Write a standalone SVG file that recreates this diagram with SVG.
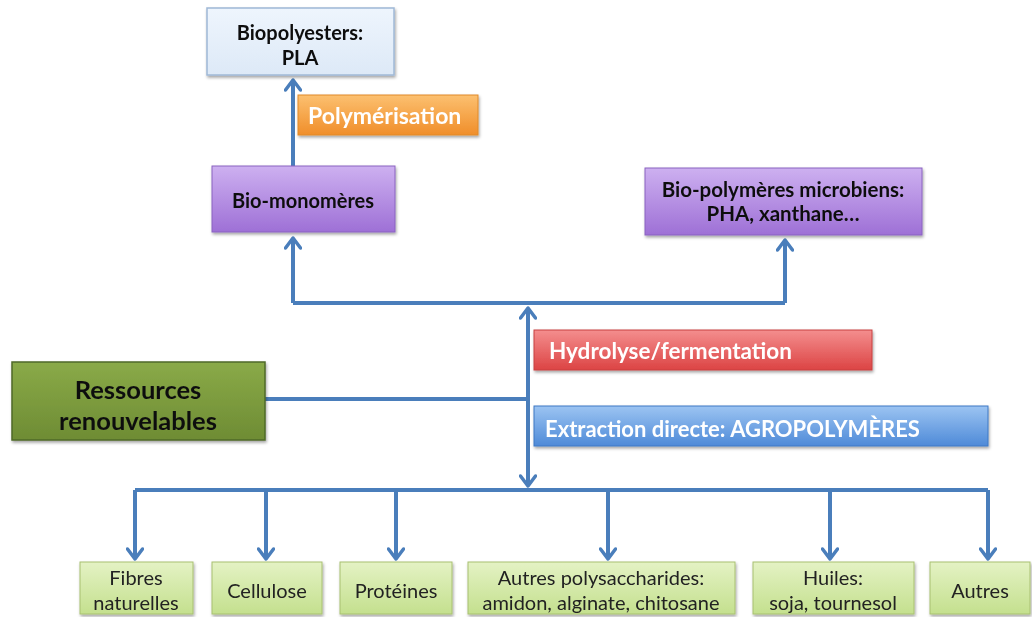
<svg xmlns="http://www.w3.org/2000/svg" width="1032" height="617" viewBox="0 0 1032 617">
<defs>
<linearGradient id="gPurple" x1="0" y1="0" x2="0" y2="1"><stop offset="0" stop-color="#cdb0f0"/><stop offset="1" stop-color="#9e70d6"/></linearGradient>
<linearGradient id="gOrange" x1="0" y1="0" x2="0" y2="1"><stop offset="0" stop-color="#fcc070"/><stop offset="1" stop-color="#f08e2a"/></linearGradient>
<linearGradient id="gRed" x1="0" y1="0" x2="0" y2="1"><stop offset="0" stop-color="#f48e8e"/><stop offset="1" stop-color="#dc4444"/></linearGradient>
<linearGradient id="gBlue" x1="0" y1="0" x2="0" y2="1"><stop offset="0" stop-color="#9cc4f2"/><stop offset="1" stop-color="#4e8ad8"/></linearGradient>
<linearGradient id="gGreen" x1="0" y1="0" x2="0" y2="1"><stop offset="0" stop-color="#8aaa48"/><stop offset="1" stop-color="#6e8c34"/></linearGradient>
<linearGradient id="gLime" x1="0" y1="0" x2="0" y2="1"><stop offset="0" stop-color="#e4f2c4"/><stop offset="1" stop-color="#c4e08e"/></linearGradient>
<linearGradient id="gPale" x1="0" y1="0" x2="0" y2="1"><stop offset="0" stop-color="#eef5fd"/><stop offset="1" stop-color="#dde9f7"/></linearGradient>
<filter id="sh" x="-10%" y="-20%" width="120%" height="150%"><feDropShadow dx="1" dy="2" stdDeviation="1.5" flood-color="#000" flood-opacity="0.35"/></filter>
<marker id="arr" viewBox="0 0 14 18" refX="12" refY="9" markerWidth="14" markerHeight="18" markerUnits="userSpaceOnUse" orient="auto">
<path d="M2,1.5 L12,9 L2,16.5" fill="none" stroke="#4a7ebb" stroke-width="3.5" stroke-linecap="round" stroke-linejoin="round"/>
</marker>
<style>
.t{font-family:Lato,"Open Sans","Liberation Sans",sans-serif;text-anchor:middle}
.b{font-weight:bold;fill:#111}
.w{font-weight:bold;fill:#fff;text-anchor:start}
.r{fill:#222;font-size:20px}
.c{fill:none;stroke:#4a7ebb;stroke-width:4}
.box{filter:url(#sh)}
</style>
</defs>

<g id="connectors">
<path class="c" d="M293,166 V80" marker-end="url(#arr)"/>
<path class="c" d="M293,303 H785"/>
<path class="c" d="M293,303 V238" marker-end="url(#arr)"/>
<path class="c" d="M785,303 V240" marker-end="url(#arr)"/>
<path class="c" d="M528,400 V308" marker-end="url(#arr)"/>
<path class="c" d="M528,400 V486" marker-end="url(#arr)"/>
<path class="c" d="M265,399 H528"/>
<path class="c" d="M135,490 H988"/>
<path class="c" d="M135,490 V559" marker-end="url(#arr)"/>
<path class="c" d="M266,490 V559" marker-end="url(#arr)"/>
<path class="c" d="M396,490 V559" marker-end="url(#arr)"/>
<path class="c" d="M608,490 V559" marker-end="url(#arr)"/>
<path class="c" d="M830,490 V559" marker-end="url(#arr)"/>
<path class="c" d="M988,490 V559" marker-end="url(#arr)"/>
</g>

<g id="biopolyesters" class="box">
<rect x="207" y="8" width="187" height="67" fill="url(#gPale)" stroke="#9fb8d6" stroke-width="1.5"/>
<text class="t b" x="300" y="40" font-size="20">Biopolyesters:</text>
<text class="t b" x="300" y="65" font-size="20">PLA</text>
</g>

<g id="polymerisation" class="box">
<rect x="298" y="95" width="180" height="40" fill="url(#gOrange)" stroke="#e08a2a" stroke-width="1"/>
<text class="t w" x="308" y="124" font-size="23">Polymérisation</text>
</g>

<g id="biomonomeres" class="box">
<rect x="212" y="166" width="183" height="66" fill="url(#gPurple)" stroke="#8a62c0" stroke-width="1"/>
<text class="t b" x="303" y="208" font-size="20">Bio-monomères</text>
</g>

<g id="biopolymeres" class="box">
<rect x="645" y="168" width="277" height="67" fill="url(#gPurple)" stroke="#8a62c0" stroke-width="1"/>
<text class="t b" x="783" y="197" font-size="20.5">Bio-polymères microbiens:</text>
<text class="t b" x="783" y="221" font-size="20.5">PHA, xanthane…</text>
</g>

<g id="ressources" class="box">
<rect x="12" y="362" width="253" height="78" fill="url(#gGreen)" stroke="#4f6a28" stroke-width="1.5"/>
<text class="t b" x="138" y="399" font-size="25.5">Ressources</text>
<text class="t b" x="138" y="430" font-size="25.5">renouvelables</text>
</g>

<g id="hydrolyse" class="box">
<rect x="534" y="330" width="338" height="40" fill="url(#gRed)" stroke="#c84040" stroke-width="1"/>
<text class="t w" x="549" y="359" font-size="22.5">Hydrolyse/fermentation</text>
</g>

<g id="extraction" class="box">
<rect x="534" y="406" width="454" height="40" fill="url(#gBlue)" stroke="#3e78c4" stroke-width="1"/>
<text class="t w" x="545" y="437" font-size="22">Extraction directe: AGROPOLYMÈRES</text>
</g>

<g id="fibres" class="box">
<rect x="80" y="562" width="113" height="52" fill="url(#gLime)" stroke="#a8c070" stroke-width="1"/>
<text class="t r" x="136" y="585">Fibres</text>
<text class="t r" x="136" y="610">naturelles</text>
</g>
<g id="cellulose" class="box">
<rect x="212" y="562" width="110" height="52" fill="url(#gLime)" stroke="#a8c070" stroke-width="1"/>
<text class="t r" x="267" y="598">Cellulose</text>
</g>
<g id="proteines" class="box">
<rect x="340" y="562" width="112" height="52" fill="url(#gLime)" stroke="#a8c070" stroke-width="1"/>
<text class="t r" x="396" y="598">Protéines</text>
</g>
<g id="polysaccharides" class="box">
<rect x="468" y="562" width="267" height="52" fill="url(#gLime)" stroke="#a8c070" stroke-width="1"/>
<text class="t r" x="601" y="585">Autres polysaccharides:</text>
<text class="t r" x="601" y="610">amidon, alginate, chitosane</text>
</g>
<g id="huiles" class="box">
<rect x="753" y="562" width="161" height="52" fill="url(#gLime)" stroke="#a8c070" stroke-width="1"/>
<text class="t r" x="833" y="585">Huiles:</text>
<text class="t r" x="833" y="610">soja, tournesol</text>
</g>
<g id="autres" class="box">
<rect x="930" y="562" width="100" height="52" fill="url(#gLime)" stroke="#a8c070" stroke-width="1"/>
<text class="t r" x="980" y="598">Autres</text>
</g>
</svg>
